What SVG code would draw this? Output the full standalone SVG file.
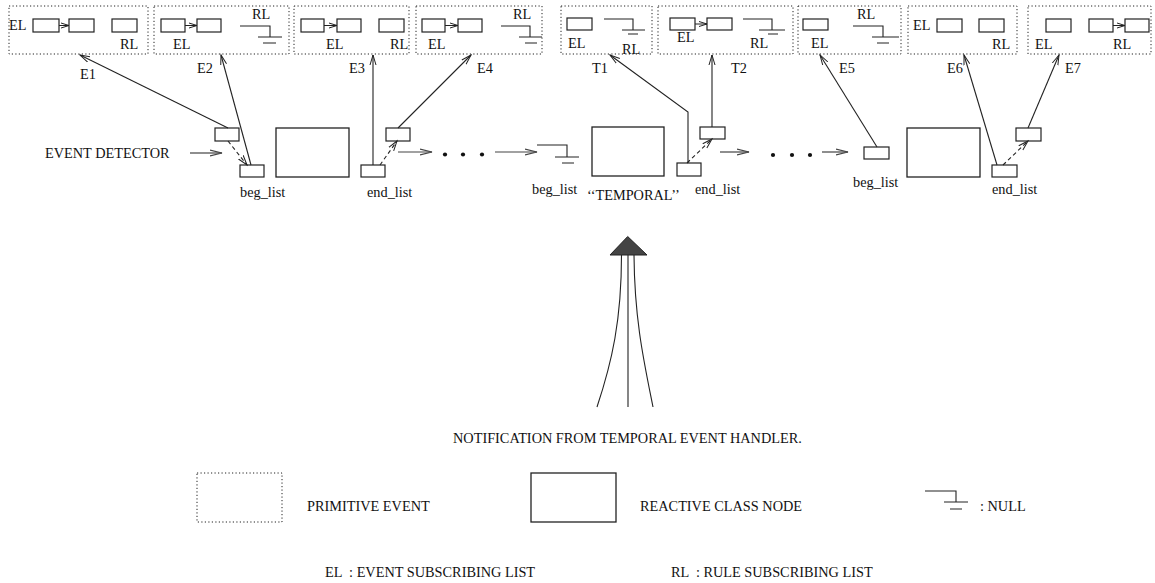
<svg xmlns="http://www.w3.org/2000/svg" width="1155" height="583" viewBox="0 0 1155 583">
<style>
text{font-family:"Liberation Serif","Times New Roman",serif;font-size:14.3px;fill:#111;white-space:pre}
.pe{fill:none;stroke:#222;stroke-width:1;stroke-dasharray:1.2 2.3}
.r{fill:#fff;stroke:#222;stroke-width:1.2}
.big{fill:#fff;stroke:#222;stroke-width:1.3}
.ln{fill:none;stroke:#222;stroke-width:1.1}
.nl{fill:none;stroke:#222;stroke-width:1.1}
.ar{fill:none;stroke:#222;stroke-width:1.1;marker-end:url(#arr)}
.ah{fill:none;stroke:#444;stroke-width:1.2;marker-end:url(#arrh)}
.da{fill:none;stroke:#222;stroke-width:1.1;stroke-dasharray:4 3;marker-end:url(#arr)}
.la{fill:none;stroke:#222;stroke-width:1;marker-end:url(#arrs)}
</style>
<defs>
<marker id="arr" markerUnits="userSpaceOnUse" markerWidth="12" markerHeight="8" refX="10" refY="4" orient="auto"><path d="M0,1 L10,4 L0,7" fill="none" stroke="#222" stroke-width="1"/></marker>
<marker id="arrh" markerUnits="userSpaceOnUse" markerWidth="14" markerHeight="8" refX="12" refY="4" orient="auto"><path d="M0,1.2 L12,4 L0,6.8" fill="none" stroke="#444" stroke-width="1.2"/></marker>
<marker id="arrs" markerUnits="userSpaceOnUse" markerWidth="9" markerHeight="7" refX="8" refY="3.5" orient="auto"><path d="M0,1 L8,3.5 L0,6" fill="none" stroke="#222" stroke-width="1"/></marker>
</defs>

<g id="E1">
<rect class="pe" x="9" y="6" width="139" height="48"/>
<text x="9" y="30">EL</text>
<rect class="r" x="33" y="19" width="26" height="13"/>
<rect class="r" x="69" y="19" width="25" height="13"/>
<path class="la" d="M59,25.5 H69"/>
<rect class="r" x="112" y="19" width="25" height="13"/>
<text x="120" y="49">RL</text>
</g>

<g id="E2">
<rect class="pe" x="154" y="6" width="135" height="48"/>
<rect class="r" x="161" y="19" width="24" height="13"/>
<rect class="r" x="197" y="19" width="24" height="13"/>
<path class="la" d="M185,25.5 H197"/>
<text x="173" y="49">EL</text>
<text x="252" y="19">RL</text>
<path class="nl" d="M240,26 H270 V37 M258,37 H282 M263,43 H276"/>
</g>

<g id="E3">
<rect class="pe" x="294" y="6" width="115" height="48"/>
<rect class="r" x="301" y="19" width="23" height="13"/>
<rect class="r" x="337" y="19" width="24" height="13"/>
<path class="la" d="M324,25.5 H337"/>
<rect class="r" x="379" y="19" width="25" height="13"/>
<text x="326" y="49">EL</text>
<text x="390" y="49">RL</text>
</g>

<g id="E4">
<rect class="pe" x="416" y="6" width="126" height="48"/>
<rect class="r" x="422" y="19" width="23" height="13"/>
<rect class="r" x="458" y="19" width="24" height="13"/>
<path class="la" d="M445,25.5 H458"/>
<text x="428" y="49">EL</text>
<text x="513" y="19">RL</text>
<path class="nl" d="M501,26 H530 V37 M519,37 H542 M525,43 H537"/>
</g>

<g id="T1">
<rect class="pe" x="561" y="6" width="91" height="48"/>
<rect class="r" x="567" y="18" width="25" height="12"/>
<path class="nl" d="M604,19 H633 V30 M622,30 H645 M628,34 H638"/>
<text x="568" y="48">EL</text>
<text x="622" y="54">RL</text>
</g>

<g id="T2">
<rect class="pe" x="658" y="6" width="135" height="48"/>
<rect class="r" x="670" y="18" width="25" height="12"/>
<rect class="r" x="707" y="18" width="25" height="12"/>
<path class="la" d="M695,24 H707"/>
<text x="677" y="42">EL</text>
<text x="750" y="48">RL</text>
<path class="nl" d="M743,19 H772 V30 M759,30 H785 M768,34 H778"/>
</g>

<g id="E5">
<rect class="pe" x="798" y="6" width="103" height="48"/>
<rect class="r" x="803" y="19" width="25" height="11"/>
<text x="811" y="48">EL</text>
<text x="857" y="19">RL</text>
<path class="nl" d="M853,26 H883 V37 M872,37 H899 M877,43 H889"/>
</g>

<g id="E6">
<rect class="pe" x="908" y="6" width="109" height="48"/>
<text x="913" y="30">EL</text>
<rect class="r" x="937" y="19" width="25" height="13"/>
<rect class="r" x="979" y="19" width="25" height="13"/>
<text x="992" y="49">RL</text>
</g>

<g id="E7">
<rect class="pe" x="1028" y="6" width="123" height="48"/>
<rect class="r" x="1046" y="19" width="25" height="13"/>
<rect class="r" x="1089" y="19" width="24" height="13"/>
<path class="la" d="M1113,25.5 H1125"/>
<rect class="r" x="1125" y="19" width="24" height="13"/>
<text x="1035" y="49">EL</text>
<text x="1113" y="49">RL</text>
</g>

<g id="event-detector"><text x="45" y="158">EVENT DETECTOR</text></g>

<g id="class1">
<rect class="r" x="215" y="128" width="24" height="13"/>
<rect class="r" x="240" y="165" width="24" height="12"/>
<text x="240" y="197">beg_list</text>
<rect class="big" x="276" y="128" width="73" height="49"/>
<rect class="r" x="361" y="165" width="24" height="12"/>
<rect class="r" x="386" y="128" width="24" height="13"/>
<text x="367" y="197">end_list</text>
</g>

<g id="temporal">
<path class="nl" d="M537,145 H567 V157 M555,157 H579 M562,163 H574"/>
<text x="532" y="194">beg_list</text>
<rect class="big" x="592" y="127" width="72" height="49"/>
<text x="587" y="200">‘‘TEMPORAL’’</text>
<rect class="r" x="677" y="163" width="24" height="13"/>
<rect class="r" x="700" y="127" width="25" height="12"/>
<text x="695" y="194">end_list</text>
</g>

<g id="class3">
<rect class="r" x="864" y="147" width="25" height="12"/>
<text x="853" y="187">beg_list</text>
<rect class="big" x="907" y="128" width="73" height="49"/>
<rect class="r" x="992" y="165" width="25" height="12"/>
<rect class="r" x="1016" y="128" width="25" height="13"/>
<text x="992" y="194">end_list</text>
</g>

<g id="dots" fill="#111">
<circle cx="445" cy="154.5" r="2.1"/><circle cx="463" cy="154.5" r="2.1"/><circle cx="482" cy="154.5" r="2.1"/>
<circle cx="773" cy="155" r="2.1"/><circle cx="792" cy="155" r="2.1"/><circle cx="810" cy="155" r="2.1"/>
</g>

<g id="connectors">
<path class="ah" d="M190,153 H222"/>
<path class="ah" d="M398,152 H432"/>
<path class="ah" d="M495,152 H537"/>
<path class="ah" d="M720,152 H749"/>
<path class="ah" d="M822,152 H848"/>
<path class="da" d="M228,141 L247,165"/>
<path class="da" d="M380,165 L397,141"/>
<path class="da" d="M687,163 L712,139"/>
<path class="da" d="M1003,165 L1028,141"/>
<path class="ar" d="M228,128 L80,55"/>
<path class="ar" d="M251,165 L221,55"/>
<path class="ar" d="M373,165 V55"/>
<path class="ar" d="M398,128 L471,55"/>
<path class="ar" d="M688,163 V112 L610,55"/>
<path class="ar" d="M712,127 V55"/>
<path class="ar" d="M877,147 L820,55"/>
<path class="ar" d="M997,165 L964,55"/>
<path class="ar" d="M1028,128 L1059,55"/>
<text x="80" y="79">E1</text>
<text x="197" y="73">E2</text>
<text x="349" y="73">E3</text>
<text x="477" y="73">E4</text>
<text x="592" y="73">T1</text>
<text x="731" y="73">T2</text>
<text x="839" y="73">E5</text>
<text x="947" y="73">E6</text>
<text x="1065" y="73">E7</text>
</g>

<g id="notification">
<path d="M627.7,236.5 L647,255 L610,255 Z" fill="#444" stroke="#222" stroke-width="1"/>
<path class="nl" d="M621.5,255 C621.5,320 612,362 597,407"/>
<path class="nl" d="M628,255 V407"/>
<path class="nl" d="M634,255 C634.5,320 644,362 653,407"/>
<text x="453" y="443">NOTIFICATION FROM TEMPORAL EVENT HANDLER.</text>
</g>

<g id="legend">
<rect class="pe" x="197" y="473" width="85" height="49"/>
<text x="307" y="511">PRIMITIVE EVENT</text>
<rect class="big" x="531" y="473" width="85" height="49"/>
<text x="640" y="511">REACTIVE CLASS NODE</text>
<path class="nl" d="M925,491 H956 V502 M944,502 H968 M950,509 H962"/>
<text x="980" y="511">: NULL</text>
<text x="325" y="577">EL  : EVENT SUBSCRIBING LIST</text>
<text x="671" y="577">RL  : RULE SUBSCRIBING LIST</text>
</g>
</svg>
